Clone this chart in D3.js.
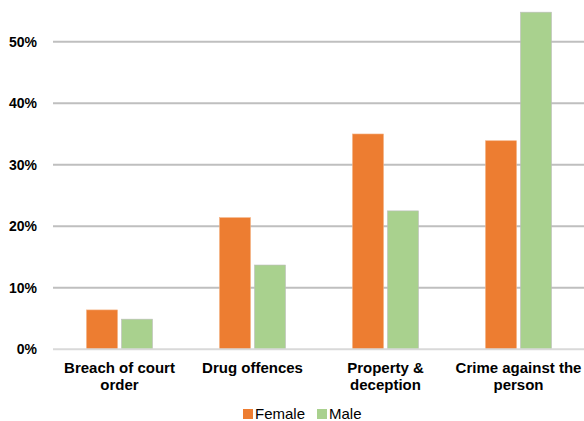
<!DOCTYPE html>
<html>
<head>
<meta charset="utf-8">
<script src="https://d3js.org/d3.v7.min.js"></script>
<style>
  body { margin: 0; background: #fff; }
  text { font-family: "Liberation Sans", Arial, sans-serif; fill: #000; }
</style>
</head>
<body>
<svg width="584" height="421"></svg>
<script>
var categories = [['Breach of court', 'order'], ['Drug offences'], ['Property &', 'deception'], ['Crime against the', 'person']];
var series = ['Female', 'Male'];
var female = [6.4, 21.4, 35.0, 33.9];
var male = [4.9, 13.7, 22.5, 54.8];
var yTicks = [0, 10, 20, 30, 40, 50];
var colors = ['#ED7D31', '#A9D18E'];

var svg = d3.select('svg');
var x = d3.scaleBand().domain(d3.range(categories.length)).range([53, 585]);
var y = d3.scaleLinear().domain([0, 50]).range([349.3, 41.7]);

// gridlines
svg.append('g').selectAll('line')
  .data(yTicks.slice(1))
  .enter().append('line')
  .attr('x1', 53).attr('x2', 584)
  .attr('y1', d => y(d)).attr('y2', d => y(d))
  .attr('stroke', '#BFBFBF').attr('stroke-width', 2);

// y labels
svg.append('g').selectAll('text')
  .data(yTicks)
  .enter().append('text')
  .attr('x', 37).attr('y', d => y(d) + 5)
  .attr('text-anchor', 'end')
  .style('font-size', '14px').style('font-weight', 'bold')
  .text(d => d + '%');

// bars
var data = [female, male];
var g = svg.selectAll('.series')
  .data(data)
  .enter().append('g')
  .attr('fill', (d, i) => colors[i]);

g.selectAll('rect')
  .data((d, si) => d.map(v => ({ v: v, si: si })))
  .enter().append('rect')
  .attr('x', (d, i) => x(i) + x.bandwidth() / 2 + (d.si === 0 ? -33 : 2))
  .attr('width', 31)
  .attr('y', d => y(d.v))
  .attr('height', d => y(0) - y(d.v))
  .attr('stroke', (d) => d.si === 0 ? '#F4B183' : '#BDBDBD')
  .attr('stroke-width', 0.6);

// baseline
svg.append('line')
  .attr('x1', 53).attr('x2', 584)
  .attr('y1', y(0)).attr('y2', y(0))
  .attr('stroke', '#D9D9D9').attr('stroke-width', 2);

// category labels
var cat = svg.append('g').selectAll('text')
  .data(categories)
  .enter().append('text')
  .attr('text-anchor', 'middle')
  .style('font-size', '15px').style('font-weight', 'bold')
  .attr('transform', (d, i) => 'translate(' + (x(i) + x.bandwidth() / 2) + ',373)');
cat.selectAll('tspan')
  .data(d => d)
  .enter().append('tspan')
  .attr('x', 0)
  .attr('dy', (d, i) => i === 0 ? 0 : 17)
  .text(d => d);

// legend
var legendX = [243, 317];
var lg = svg.append('g').selectAll('g')
  .data(series)
  .enter().append('g')
  .attr('transform', (d, i) => 'translate(' + legendX[i] + ',409)');
lg.append('rect').attr('width', 10).attr('height', 10).attr('y', 0)
  .attr('fill', (d, i) => colors[i]);
lg.append('text').attr('x', 12).attr('y', 10)
  .style('font-size', '15px')
  .text(d => d);
</script>
</body>
</html>
